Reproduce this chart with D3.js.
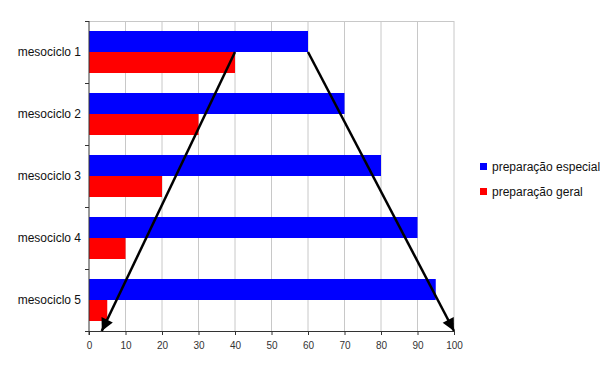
<!DOCTYPE html>
<html lang="pt">
<head>
<meta charset="UTF-8">
<title>mesociclos</title>
<style>
  body { margin: 0; background: #fff; }
  text { font-family: "Liberation Sans", Arial, sans-serif; }
</style>
</head>
<body>
<svg id="chart" width="614" height="368"></svg>
<script src="https://d3js.org/d3.v7.min.js"></script>
<script>
// data
var categories = ["mesociclo 1", "mesociclo 2", "mesociclo 3", "mesociclo 4", "mesociclo 5"];
var especial = [60, 70, 80, 90, 95];
var geral = [40, 30, 20, 10, 5];
var seriesNames = ["preparação especial", "preparação geral"];
var seriesColors = ["#0000ff", "#ff0000"];
var xTicks = [0, 10, 20, 30, 40, 50, 60, 70, 80, 90, 100];

// plot area (window.top is reserved, so use other names)
var plotLeft = 89, plotRight = 454, plotTop = 21, plotBottom = 331;

var svg = d3.select("#chart");

var x = d3.scaleLinear().domain([0, 100]).range([plotLeft, plotRight]);
var y = d3.scaleBand().domain(categories).range([plotTop, plotBottom]).paddingInner(0).paddingOuter(0);
var inner = d3.scaleBand().domain(seriesNames).range([0, y.bandwidth()]).paddingInner(0).paddingOuter(0.476);

// grid lines
svg.append("g").selectAll("line")
    .data(xTicks.slice(1))
    .enter().append("line")
    .attr("x1", function (d) { return x(d); })
    .attr("x2", function (d) { return x(d); })
    .attr("y1", plotTop).attr("y2", plotBottom)
    .attr("stroke", "#c8c8c8").attr("stroke-width", 1);
svg.append("line")
    .attr("x1", plotLeft).attr("x2", plotRight).attr("y1", plotTop + 0.5).attr("y2", plotTop + 0.5)
    .attr("stroke", "#c8c8c8");

// bars
var rows = categories.map(function (c, i) { return { cat: c, vals: [especial[i], geral[i]] }; });
var groups = svg.append("g").selectAll("g")
    .data(rows)
    .enter().append("g")
    .attr("transform", function (d) { return "translate(0," + y(d.cat) + ")"; });
groups.selectAll("rect")
    .data(function (d) { return d.vals.map(function (v, j) { return { name: seriesNames[j], v: v, c: seriesColors[j] }; }); })
    .enter().append("rect")
    .attr("x", x(0))
    .attr("y", function (d) { return inner(d.name); })
    .attr("width", function (d) { return x(d.v) - x(0); })
    .attr("height", inner.bandwidth())
    .attr("fill", function (d) { return d.c; });

// axes
var xAxis = svg.append("g")
    .attr("transform", "translate(0," + plotBottom + ")")
    .call(d3.axisBottom(x).tickValues(xTicks).tickSize(4).tickSizeOuter(0));
xAxis.selectAll("text").attr("font-size", 10).attr("fill", "#333").attr("dy", "1.1em");
xAxis.selectAll("line, path").attr("stroke", "#333");

var yAxis = svg.append("g").attr("transform", "translate(" + plotLeft + ",0)");
yAxis.append("line").attr("x1", 0).attr("x2", 0).attr("y1", plotTop).attr("y2", plotBottom + 4).attr("stroke", "#333");
yAxis.selectAll("line.tk")
    .data(d3.range(categories.length + 1))
    .enter().append("line")
    .attr("class", "tk")
    .attr("x1", -4).attr("x2", 0)
    .attr("y1", function (i) { return i < categories.length ? y(categories[i]) + 0.5 : plotBottom + 0.5; })
    .attr("y2", function (i) { return i < categories.length ? y(categories[i]) + 0.5 : plotBottom + 0.5; })
    .attr("stroke", "#333");
yAxis.selectAll("text")
    .data(categories)
    .enter().append("text")
    .attr("x", -8)
    .attr("y", function (d) { return y(d) + y.bandwidth() / 2; })
    .attr("dy", "0.35em")
    .attr("text-anchor", "end")
    .attr("font-size", 12)
    .attr("fill", "#111")
    .text(function (d) { return d; });

// arrows
svg.append("defs").append("marker")
    .attr("id", "head")
    .attr("viewBox", "0 0 10 10")
    .attr("refX", 10).attr("refY", 5)
    .attr("markerWidth", 6).attr("markerHeight", 5)
    .attr("markerUnits", "strokeWidth")
    .attr("orient", "auto")
    .append("path").attr("d", "M0,0L10,5L0,10z").attr("fill", "#000");

var startY = y(categories[0]) + inner(seriesNames[1]);
var arrows = [
  { x1: geral[0], x2: 3.5 },
  { x1: especial[0], x2: 100 }
];
svg.append("g").selectAll("line")
    .data(arrows)
    .enter().append("line")
    .attr("x1", function (d) { return x(d.x1); })
    .attr("y1", startY)
    .attr("x2", function (d) { return x(d.x2); })
    .attr("y2", plotBottom)
    .attr("stroke", "#000")
    .attr("stroke-width", 2.5)
    .attr("marker-end", "url(#head)");

// legend
var legend = svg.append("g").selectAll("g")
    .data(seriesNames)
    .enter().append("g")
    .attr("transform", function (d, i) { return "translate(480," + (163 + i * 25) + ")"; });
legend.append("rect").attr("width", 7).attr("height", 7)
    .attr("fill", function (d, i) { return seriesColors[i]; });
legend.append("text").attr("x", 12).attr("y", 4).attr("dy", "0.35em")
    .attr("font-size", 12).attr("fill", "#111")
    .text(function (d) { return d; });
</script>
</body>
</html>
